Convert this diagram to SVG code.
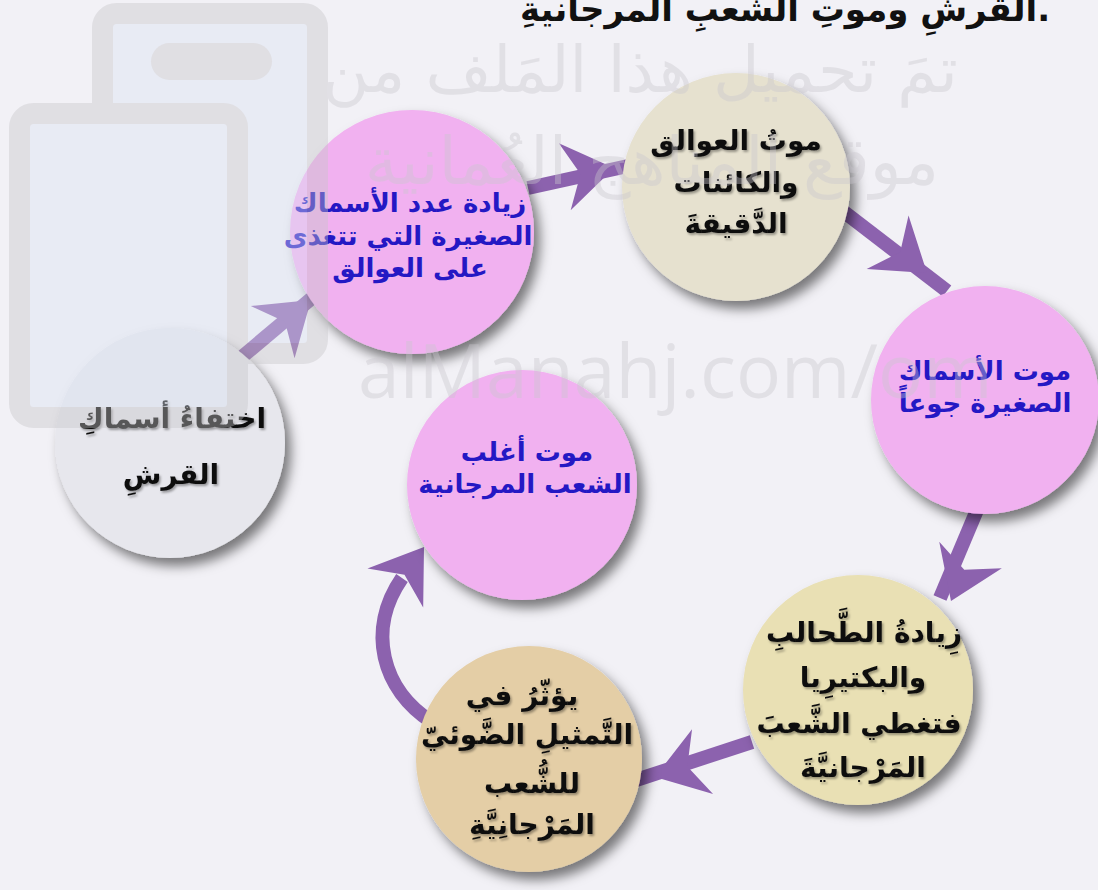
<svg xmlns="http://www.w3.org/2000/svg" xmlns:xlink="http://www.w3.org/1999/xlink" width="1098" height="890" viewBox="0 0 1098 890">
<style>
.bg{fill:#f2f1f6}
.pink{fill:#f1b1f0}
.beige{fill:#e6e1cf}
.grey{fill:#e7e7ed}
.yellow{fill:#e9e0b4}
.tan{fill:#e4cea6}
.node circle{filter:url(#sh)}
.blue{font-family:"DejaVu Sans",sans-serif;font-weight:bold;font-size:26px;fill:#2418c4;text-anchor:middle}
.blk{font-family:"DejaVu Sans",sans-serif;font-weight:bold;font-size:28px;fill:#111;text-anchor:middle;filter:url(#tsh)}
.shaft{fill:none;stroke:#8c62ae;stroke-width:14}
.head{fill:#8c62ae}
.wm{font-family:"DejaVu Sans",sans-serif;fill:#cac7ce}
</style>
<defs>
<filter id="sh" x="-20%" y="-20%" width="150%" height="150%">
<feDropShadow dx="6" dy="8" stdDeviation="6" flood-color="#000" flood-opacity="0.5"/>
</filter>
<filter id="tsh" x="-10%" y="-20%" width="120%" height="150%">
<feDropShadow dx="1.5" dy="2" stdDeviation="1.2" flood-color="#000" flood-opacity="0.35"/>
</filter>
<path id="ah" d="M0,0 L-50,-34 L-34,0 L-50,34 Z"/>
</defs>
<rect class="bg" x="0" y="0" width="1098" height="890"/>
<text x="785" y="21" font-family="DejaVu Sans,sans-serif" font-weight="bold" font-size="34" fill="#111" text-anchor="middle">القرشِ وموتِ الشعبِ المرجانيةِ.</text>
<g id="connectors">
<line class="shaft" x1="243" y1="356" x2="318" y2="293"/>
<use xlink:href="#ah" class="head" transform="translate(311,300) rotate(-40)"/>
<line class="shaft" x1="528" y1="188" x2="628" y2="166"/>
<use xlink:href="#ah" class="head" transform="translate(614,168) rotate(-10)"/>
<line class="shaft" x1="835" y1="205" x2="947" y2="291"/>
<use xlink:href="#ah" class="head" transform="translate(927,273) rotate(38)"/>
<line class="shaft" x1="977" y1="510" x2="940" y2="598"/>
<use xlink:href="#ah" class="head" transform="translate(951,601) rotate(113)"/>
<line class="shaft" x1="752" y1="742" x2="630" y2="782"/>
<use xlink:href="#ah" class="head" transform="translate(655,777) rotate(162)"/>
<path class="shaft" d="M432,722 C382,690 366,630 402,578"/>
<use xlink:href="#ah" class="head" transform="translate(424,547) rotate(-55)"/>
</g>
<g id="n1" class="node">
<circle class="pink" cx="412" cy="232" r="122"/>
<text class="blue" x="410" y="212">زيادة عدد الأسماك</text>
<text class="blue" x="408" y="245">الصغيرة التي تتغذى</text>
<text class="blue" x="410" y="277">على العوالق</text>
</g>
<g id="n2" class="node">
<circle class="beige" cx="736" cy="187" r="114"/>
<text class="blk" x="736" y="150">موتُ العوالق</text>
<text class="blk" x="736" y="192">والكائنات</text>
<text class="blk" x="736" y="233">الدَّقيقةَ</text>
</g>
<g id="n3" class="node">
<circle class="pink" cx="985" cy="400" r="114"/>
<text class="blue" x="985" y="380">موت الأسماك</text>
<text class="blue" x="985" y="412">الصغيرة جوعاً</text>
</g>
<g id="n4" class="node">
<circle class="grey" cx="170" cy="443" r="115"/>
<text class="blk" x="172" y="428">اختفاءُ أسماكِ</text>
<text class="blk" x="171" y="484">القرشِ</text>
</g>
<g id="n5" class="node">
<circle class="pink" cx="522" cy="485" r="115"/>
<text class="blue" x="527" y="461">موت أغلب</text>
<text class="blue" x="525" y="493">الشعب المرجانية</text>
</g>
<g id="n6" class="node">
<circle class="yellow" cx="858" cy="690" r="115"/>
<text class="blk" x="864" y="642">زِيادةُ الطَّحالبِ</text>
<text class="blk" x="863" y="687">والبكتيرِيا</text>
<text class="blk" x="859" y="733">فتغطي الشَّعبَ</text>
<text class="blk" x="863" y="777">المَرْجانيَّةَ</text>
</g>
<g id="n7" class="node">
<circle class="tan" cx="529" cy="759" r="113"/>
<text class="blk" x="522" y="705">يؤثّرُ في</text>
<text class="blk" x="527" y="744">التَّمثيلِ الضَّوئيّ</text>
<text class="blk" x="532" y="793">للشُّعب</text>
<text class="blk" x="532" y="834">المَرْجانِيَّةِ</text>
</g>
<g id="watermark" opacity="0.4">
<rect x="102.5" y="13.5" width="215" height="340" rx="14" fill="#dae3f2" stroke="#c6c5c8" stroke-width="21"/>
<rect x="151" y="43" width="121" height="37" rx="18.5" fill="#c6c5c8"/>
<rect x="19.5" y="113.5" width="218" height="304" rx="14" fill="#dae3f2" stroke="#c6c5c8" stroke-width="21"/>
<text class="wm" x="640" y="92" font-size="64" text-anchor="middle">تمَ تحميل هذا المَلف من</text>
<text class="wm" x="652" y="184" font-size="66" text-anchor="middle">موقع المناهج العُمانية</text>
<text x="358" y="398" font-family="Open Sans,sans-serif" font-size="75" fill="#cac7ce">alManahj.com/om</text>
</g>
</svg>
